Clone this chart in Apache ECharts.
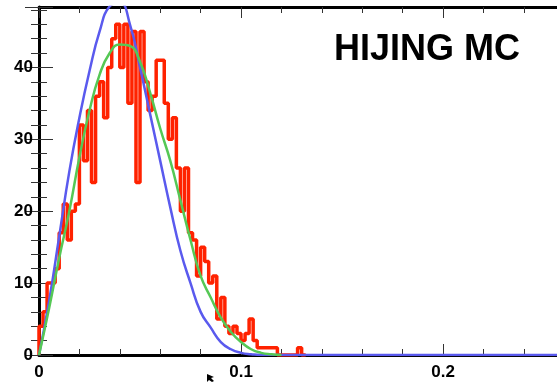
<!DOCTYPE html>
<html>
<head>
<meta charset="utf-8">
<script src="https://cdn.jsdelivr.net/npm/echarts@6/dist/echarts.min.js"></script>
<style>html,body{margin:0;padding:0;background:#fff}#c{width:557px;height:382px}</style>
</head>
<body>
<div id="c"></div>
<script>
// ---- data ----
const binWidth = 0.002;
const histCounts = [4,6,10,10,12,17,21,16,20,21,32,27,34,24,36,38,33,40,44,46,40,46,35,45,24,45,38,34,36,41,41,35,30,33,26,20,26,17,16,11,15,13,10,11,5,8,4,3,4,3,2,3,5,2,1,1,1,1,1,0,0,0,0,0,1,0];
const blueX = [0,0.005,0.010,0.015,0.020,0.025,0.030,0.035,0.040,0.045,0.050,0.055,0.060,0.065,0.070,0.075,0.080,0.085,0.090,0.095,0.100,0.105,0.110,0.2564];
const blueY = [0,7.5,16.5,25.5,33,39.5,45,48.5,49,46,40,33.5,27,20.5,14.5,10,6,3.8,1.8,0.8,0.3,0.1,0,0];
const greenX = [0,0.005,0.010,0.015,0.020,0.025,0.030,0.035,0.040,0.045,0.050,0.055,0.060,0.065,0.070,0.075,0.080,0.085,0.090,0.095,0.100,0.105,0.110,0.115,0.120];
const greenY = [0,6.5,13.5,20,27.5,34,39,42,43.2,43,40.8,36.5,31.5,27,21.5,16,11,8,5.2,3.2,1.8,0.8,0.3,0.1,0];
const xTicks = [0, 0.1, 0.2];
const yTicks = [0, 10, 20, 30, 40];
const labelText = 'HIJING MC';

// ---- build ----
const histData = [[0, 0]];
histCounts.forEach((c, i) => histData.push([i * binWidth, c]));
histData.push([histCounts.length * binWidth, 0]);
const blueData = blueX.map((x, i) => [x, blueY[i]]);
const greenData = greenX.map((x, i) => [x, greenY[i]]);

const XMAX = 0.2564, YMAX = 48.4;
const font = '"Liberation Sans", Arial, sans-serif';
const lbl = {fontFamily: font, fontWeight: 'bold', fontSize: 17, color: '#000'};

const chart = echarts.init(document.getElementById('c'), null, {renderer: 'canvas'});
chart.setOption({
  animation: false,
  backgroundColor: '#fff',
  grid: {left: 39, top: 7, right: 0, bottom: 27, containLabel: false},
  xAxis: [{
    type: 'value', min: 0, max: XMAX, interval: 0.1, position: 'bottom',
    axisLine: {show: true, onZero: false, lineStyle: {color: '#000', width: 3}},
    axisTick: {show: true, inside: true, length: 11, lineStyle: {color: '#333', width: 1}},
    minorTick: {show: true, splitNumber: 5, length: 6, lineStyle: {color: '#333', width: 1}},
    splitLine: {show: false},
    axisLabel: Object.assign({}, lbl, {margin: 9, showMaxLabel: false,
      formatter: v => { const t = xTicks.find(k => Math.abs(k - v) < 1e-9); return t === undefined ? '' : (t === 0 ? '0' : t.toFixed(1)); }})
  }, {
    type: 'value', min: 0, max: XMAX, interval: 0.1, position: 'top',
    axisLine: {show: true, onZero: false, lineStyle: {color: '#000', width: 3}},
    axisTick: {show: true, inside: true, length: 11, lineStyle: {color: '#333', width: 1}},
    minorTick: {show: true, splitNumber: 5, length: 6, lineStyle: {color: '#333', width: 1}},
    splitLine: {show: false}, axisLabel: {show: false}
  }],
  yAxis: [{
    type: 'value', min: 0, max: YMAX, interval: 10, position: 'left',
    axisLine: {show: true, onZero: false, lineStyle: {color: '#000', width: 3}},
    axisTick: {show: true, inside: true, length: 14, lineStyle: {color: '#333', width: 1}},
    minorTick: {show: true, splitNumber: 5, length: 8, lineStyle: {color: '#333', width: 1}},
    splitLine: {show: false},
    axisLabel: Object.assign({}, lbl, {margin: 6, showMaxLabel: false,
      formatter: v => yTicks.indexOf(v) >= 0 ? String(v) : ''})
  }, {
    type: 'value', min: 0, max: YMAX, interval: 10, position: 'right',
    axisLine: {show: false},
    axisTick: {show: true, inside: true, length: 14, lineStyle: {color: '#333', width: 1}},
    minorTick: {show: true, splitNumber: 5, length: 8, lineStyle: {color: '#333', width: 1}},
    splitLine: {show: false}, axisLabel: {show: false}
  }],
  series: [{
    type: 'line', name: 'data', data: histData, step: 'end', symbol: 'none',
    lineStyle: {color: '#ff2200', width: 3.5}, z: 3
  }, {
    type: 'line', name: 'blue', data: blueData, smooth: true, symbol: 'none',
    lineStyle: {color: '#5a5aee', width: 2.5}, z: 4
  }, {
    type: 'line', name: 'green', data: greenData, smooth: true, symbol: 'none',
    lineStyle: {color: '#55c855', width: 2.5}, z: 5
  }],
  graphic: [{
    type: 'text', left: 334, top: 32,
    style: {text: labelText, fontFamily: font, fontWeight: 'bold', fontSize: 36, fill: '#000'}
  }, {
    type: 'polygon', shape: {points: [[207,374],[207,382],[209,380],[212,382],[214,381],[211,378],[214,377]]},
    style: {fill: '#000'}
  }]
});
</script>
</body>
</html>
